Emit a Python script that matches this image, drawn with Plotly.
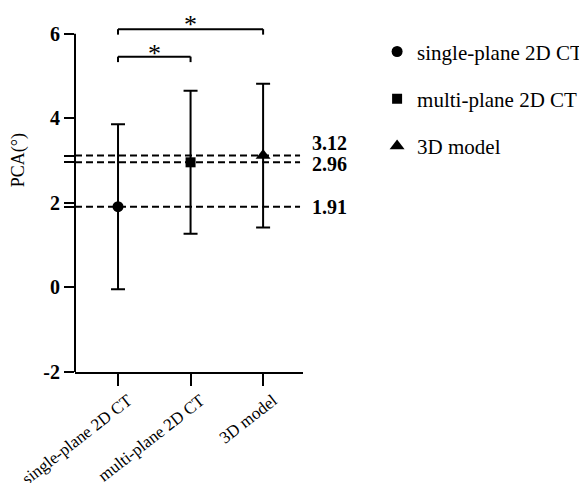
import plotly.graph_objects as go

categories = ["single-plane 2D CT", "multi-plane 2D CT", "3D model"]
means = [1.91, 2.96, 3.12]
sds = [1.95, 1.69, 1.70]
symbols = ["circle", "square", "triangle-up"]
marker_sizes = [11, 10, 13]
y_tickvals = [-2, 0, 2, 4, 6]
y_title = "PCA(°)"
comparisons = [(0, 2, 6.11, 5.98, 6.33), (0, 1, 5.46, 5.33, 5.65)]

FONT = "Liberation Serif"
Y_MIN, Y_TOP, Y_AXIS_END = -2, 6.35, 6
PAGE_OFFSET = 8  # default body margin of the html page

fig = go.Figure()
for i, cat in enumerate(categories):
    fig.add_trace(go.Scatter(
        x=[cat], y=[means[i]], mode="markers", name=cat,
        legendgroup=cat,
        marker=dict(symbol=symbols[i], size=marker_sizes[i], color="black"),
        error_y=dict(type="data", array=[sds[i]], visible=True,
                     color="black", thickness=2, width=7),
        cliponaxis=False,
    ))

shapes = []
shapes.append(dict(type="line", xref="paper", yref="y", x0=0, x1=0,
                   y0=Y_MIN, y1=Y_AXIS_END, line=dict(color="black", width=2)))
for m in means:
    shapes.append(dict(type="line", xref="paper", yref="y", x0=0, x1=0.987,
                       y0=m, y1=m, line=dict(color="black", width=2, dash="7px,4px")))
annotations = []
for a, b, ytop, yleg, ystar in comparisons:
    xa, xb = categories[a], categories[b]
    shapes.append(dict(type="line", xref="x", yref="y", x0=xa, x1=xb, y0=ytop, y1=ytop,
                       line=dict(color="black", width=2)))
    shapes.append(dict(type="line", xref="x", yref="y", x0=xa, x1=xa, y0=yleg, y1=ytop,
                       line=dict(color="black", width=2)))
    shapes.append(dict(type="line", xref="x", yref="y", x0=xb, x1=xb, y0=yleg, y1=ytop,
                       line=dict(color="black", width=2)))
    annotations.append(dict(x=(a + b) / 2, y=ystar, xref="x", yref="y", text="*",
                            showarrow=False, font=dict(family=FONT, size=26, color="black"),
                            yanchor="middle", yshift=-5))

label_shift = {3.12: 13, 2.96: -2, 1.91: 0}
for m in means:
    annotations.append(dict(x=1.031, y=m, xref="paper", yref="y", text=f"<b>{m:.2f}</b>",
                            showarrow=False, xanchor="left", yanchor="middle",
                            yshift=label_shift.get(m, 0),
                            font=dict(family=FONT, size=20, color="black")))

# y-axis title (placed beside the upper half of the axis, as in the original)
annotations.append(dict(x=-0.25, y=0.60, xref="paper", yref="paper", text=y_title,
                        textangle=-90, showarrow=False, xanchor="center", yanchor="middle",
                        font=dict(family=FONT, size=18, color="black")))

all_ticks = sorted(y_tickvals + means)
tick_text = [f"<b>{v}</b>" if v in y_tickvals else "" for v in all_ticks]

fig.update_layout(
    width=587 - PAGE_OFFSET, height=483 - PAGE_OFFSET,
    margin=dict(l=75 - PAGE_OFFSET, r=284, t=19 - PAGE_OFFSET, b=111, autoexpand=False),
    paper_bgcolor="white", plot_bgcolor="white",
    font=dict(family=FONT, color="black"),
    shapes=shapes, annotations=annotations,
    showlegend=True,
    legend=dict(x=1.325, y=0.965, xanchor="left", yanchor="top",
                font=dict(family=FONT, size=21, color="black"),
                traceorder="grouped", tracegroupgap=17,
                bgcolor="rgba(0,0,0,0)"),
    xaxis=dict(type="category", categoryorder="array", categoryarray=categories,
               range=[-0.593, 2.55], showline=True, linecolor="black", linewidth=2,
               ticks="outside", ticklen=12, tickwidth=2, tickcolor="black",
               tickangle=-38, ticklabelshift=10, ticklabelstandoff=-2,
               showgrid=False, zeroline=False,
               tickfont=dict(family=FONT, size=17, color="black")),
    yaxis=dict(range=[Y_MIN, Y_TOP], showline=False, showgrid=False, zeroline=False,
               tickvals=all_ticks, ticktext=tick_text,
               ticks="outside", ticklen=10, tickwidth=2, tickcolor="black",
               tickfont=dict(family=FONT, size=20, color="black", weight="bold")),
)

fig.write_html("out.html")
